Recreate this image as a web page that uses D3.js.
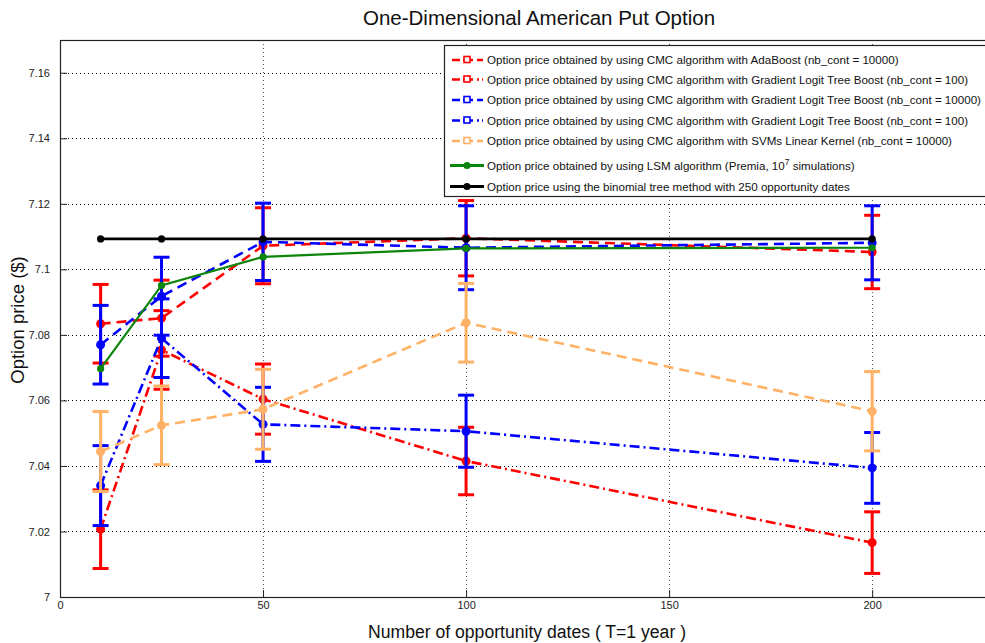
<!DOCTYPE html>
<html>
<head>
<meta charset="utf-8">
<script src="https://cdn.jsdelivr.net/npm/d3@7"></script>
<style>
  html, body { margin: 0; padding: 0; background: #fff; }
  svg { display: block; font-family: "Liberation Sans", Arial, sans-serif; }
</style>
</head>
<body>
<svg id="chart" width="985" height="643"></svg>
<script>
// Opportunity dates on the x axis
const xDates = [10, 25, 50, 100, 200];

// CMC estimates with their error bar half-widths
const adaBoost10000 = [7.0834, 7.0851, 7.1072, 7.1095, 7.1053];
const adaBoost10000Err = [0.0120, 0.0116, 0.0116, 0.0115, 0.0112];
const gltb100Red = [7.0207, 7.0754, 7.0604, 7.0415, 7.0166];
const gltb100RedErr = [0.0120, 0.0120, 0.0107, 0.0103, 0.0094];
const gltb10000 = [7.0770, 7.0918, 7.1084, 7.1066, 7.1081];
const gltb10000Err = [0.0120, 0.0119, 0.0118, 0.0128, 0.0113];
const gltb100Blue = [7.0340, 7.0790, 7.0527, 7.0506, 7.0394];
const gltb100BlueErr = [0.0122, 0.0120, 0.0113, 0.0110, 0.0108];
const svmLinear10000 = [7.0444, 7.0524, 7.0573, 7.0837, 7.0567];
const svmLinear10000Err = [0.0122, 0.0120, 0.0122, 0.0120, 0.0121];

// Reference prices
const lsmPremia = [7.0697, 7.0951, 7.1038, 7.1064, 7.1066];
const binomialTree = [7.1093, 7.1093, 7.1093, 7.1093, 7.1093];

// Axis ticks
const xTicks = [0, 50, 100, 150, 200];
const yTicks = [7, 7.02, 7.04, 7.06, 7.08, 7.1, 7.12, 7.14, 7.16];

const legendLabels = [
  "Option price obtained by using CMC algorithm with AdaBoost (nb_cont = 10000)",
  "Option price obtained by using CMC algorithm with Gradient Logit Tree Boost (nb_cont = 100)",
  "Option price obtained by using CMC algorithm with Gradient Logit Tree Boost (nb_cont = 10000)",
  "Option price obtained by using CMC algorithm with Gradient Logit Tree Boost (nb_cont = 100)",
  "Option price obtained by using CMC algorithm with SVMs Linear Kernel (nb_cont = 10000)",
  "Option price obtained by using LSM algorithm (Premia, 10|7| simulations)",
  "Option price using the binomial tree method with 250 opportunity dates"
];

const DASH = "10,6";
const DASHDOT = "10,4,2,4";

const series = [
  { vals: adaBoost10000, err: adaBoost10000Err, color: "#ff0000", dash: DASH, width: 2.6 },
  { vals: gltb100Red, err: gltb100RedErr, color: "#ff0000", dash: DASHDOT, width: 2.6 },
  { vals: gltb10000, err: gltb10000Err, color: "#0000ff", dash: DASH, width: 2.6 },
  { vals: gltb100Blue, err: gltb100BlueErr, color: "#0000ff", dash: DASHDOT, width: 2.6 },
  { vals: svmLinear10000, err: svmLinear10000Err, color: "#ffb266", dash: DASH, width: 2.6 },
  { vals: lsmPremia, err: null, color: "#0b850b", dash: null, width: 2.2 },
  { vals: binomialTree, err: null, color: "#000000", dash: null, width: 2.8 }
];

const svg = d3.select("#chart");
const plotL = 60, plotT = 40, plotB = 597, plotR = 994;

const x = d3.scaleLinear().domain([0, 230]).range([plotL, plotR]);
const y = d3.scaleLinear().domain([7, 7.17]).range([plotB, plotT]);

// Grid
const grid = svg.append("g");
grid.selectAll("line.gy").data(yTicks.filter(t => t > 7)).join("line")
  .attr("x1", plotL).attr("x2", plotR)
  .attr("y1", d => Math.round(y(d)) + 0.5).attr("y2", d => Math.round(y(d)) + 0.5)
  .attr("stroke", "#000").attr("stroke-width", 1).attr("stroke-dasharray", "1,3");
grid.selectAll("line.gx").data(xTicks.filter(t => t > 0)).join("line")
  .attr("x1", d => Math.round(x(d)) + 0.5).attr("x2", d => Math.round(x(d)) + 0.5)
  .attr("y1", plotT).attr("y2", plotB)
  .attr("stroke", "#555").attr("stroke-width", 1).attr("stroke-dasharray", "1,3");

// Axes (inward ticks)
const yAxis = d3.axisLeft(y).tickValues(yTicks).tickSize(-7).tickPadding(10)
  .tickFormat(d => d3.format("~g")(d));
const xAxis = d3.axisBottom(x).tickValues(xTicks).tickSize(-7).tickPadding(4)
  .tickFormat(d3.format("d"));

const gy = svg.append("g").attr("transform", `translate(${plotL},0)`).call(yAxis);
const gx = svg.append("g").attr("transform", `translate(0,${plotB})`).call(xAxis);
[gx, gy].forEach(g => {
  g.select(".domain").remove();
  g.selectAll(".tick line").attr("stroke", "#222").attr("stroke-width", 1);
  g.selectAll(".tick text").attr("fill", "#222").style("font-size", "11px");
});

// Frame
svg.append("rect").attr("x", plotL + 0.5).attr("y", plotT + 0.5)
  .attr("width", plotR - plotL).attr("height", plotB - plotT)
  .attr("fill", "none").attr("stroke", "#222").attr("stroke-width", 1.2);

// Data
const line = d3.line().x((d, i) => x(xDates[i])).y(d => y(d));
const plot = svg.append("g");

series.forEach(s => {
  const g = plot.append("g");
  if (s.err) {
    xDates.forEach((xd, i) => {
      const cx = x(xd);
      const y0 = y(s.vals[i] - s.err[i]), y1 = y(s.vals[i] + s.err[i]);
      g.append("line").attr("x1", cx).attr("x2", cx).attr("y1", y0).attr("y2", y1)
        .attr("stroke", s.color).attr("stroke-width", 3);
      [y0, y1].forEach(yy => g.append("line")
        .attr("x1", cx - 8).attr("x2", cx + 8).attr("y1", yy).attr("y2", yy)
        .attr("stroke", s.color).attr("stroke-width", 3));
    });
  }
  g.append("path").datum(s.vals).attr("d", line)
    .attr("fill", "none").attr("stroke", s.color).attr("stroke-width", s.width)
    .attr("stroke-dasharray", s.dash);
  g.selectAll("circle").data(s.vals).join("circle")
    .attr("cx", (d, i) => x(xDates[i])).attr("cy", d => y(d))
    .attr("r", s.err ? 4.5 : 3.6).attr("fill", s.color);
});

// Legend
const lg = svg.append("g");
lg.append("rect").attr("x", 444.5).attr("y", 45.5).attr("width", 560).attr("height", 151)
  .attr("fill", "#fff").attr("stroke", "#222").attr("stroke-width", 1.2);
const rowY = [60, 79.5, 100, 120.5, 141, 165.5, 186.5];
series.forEach((s, i) => {
  const ry = rowY[i];
  const g = lg.append("g");
  if (s.err) {
    g.append("line").attr("x1", 452).attr("x2", 483).attr("y1", ry).attr("y2", ry)
      .attr("stroke", s.color).attr("stroke-width", 2.6)
      .attr("stroke-dasharray", s.dash === DASH ? "8,3,10,4,8" : "8,3,10,4,2,3,2");
    g.append("rect").attr("x", 464).attr("y", ry - 3.5).attr("width", 6).attr("height", 6)
      .attr("fill", "#fff").attr("stroke", s.color).attr("stroke-width", 1.6);
  } else {
    g.append("line").attr("x1", 450).attr("x2", 484).attr("y1", ry).attr("y2", ry)
      .attr("stroke", s.color).attr("stroke-width", 3);
    g.append("circle").attr("cx", 467).attr("cy", ry).attr("r", 3.6).attr("fill", s.color);
  }
  const parts = legendLabels[i].split("|");
  const t = g.append("text").attr("x", 487).attr("y", ry + 4).attr("fill", "#111")
    .style("font-size", "11.6px");
  t.append("tspan").text(parts[0]);
  if (parts.length > 1) {
    t.append("tspan").attr("dy", -5).style("font-size", "8.5px").text(parts[1]);
    t.append("tspan").attr("dy", 5).text(parts[2]);
  }
});

// Titles
svg.append("text").attr("x", 539).attr("y", 25).attr("text-anchor", "middle")
  .attr("fill", "#111").style("font-size", "20.5px").text("One-Dimensional American Put Option");
svg.append("text").attr("x", 527).attr("y", 638).attr("text-anchor", "middle")
  .attr("fill", "#111").style("font-size", "17.6px").text("Number of opportunity dates ( T=1 year )");
svg.append("text").attr("transform", "translate(24,320) rotate(-90)").attr("text-anchor", "middle")
  .attr("fill", "#111").style("font-size", "18.5px").text("Option price ($)");
</script>
</body>
</html>
